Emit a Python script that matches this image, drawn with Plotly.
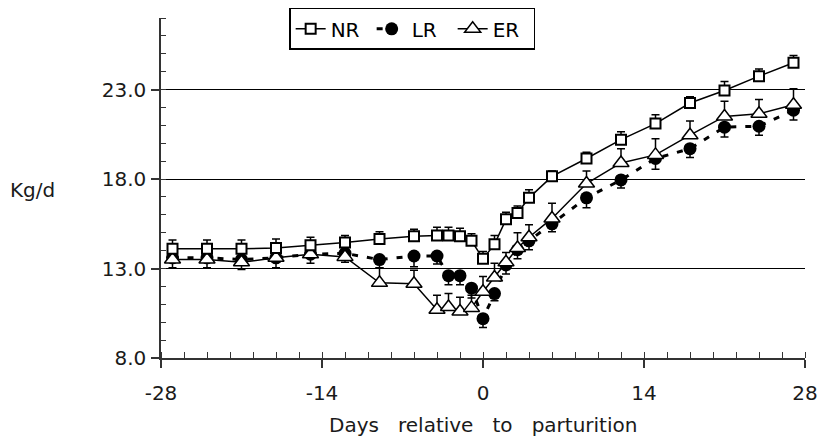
import plotly.graph_objects as go

days = [-27, -24, -21, -18, -15, -12, -9, -6, -4, -3, -2, -1, 0, 1, 2, 3, 4, 6, 9, 12, 15, 18, 21, 24, 27]

nr = [14.1, 14.1, 14.1, 14.15, 14.3, 14.45, 14.65, 14.8, 14.85, 14.85, 14.8, 14.55, 13.55, 14.35,
      15.75, 16.1, 16.95, 18.15, 19.15, 20.2, 21.1, 22.25, 22.95, 23.75, 24.5]
nr_err = [0.5, 0.5, 0.5, 0.5, 0.45, 0.4, 0.4, 0.4, 0.45, 0.45, 0.45, 0.4, 0.4, 0.5,
          0.4, 0.4, 0.45, 0.3, 0.35, 0.45, 0.5, 0.35, 0.5, 0.4, 0.4]

lr = [13.6, 13.6, 13.5, 13.6, 13.8, 13.85, 13.5, 13.7, 13.7, 12.6, 12.6, 11.9, 10.2, 11.6,
      13.2, 14.05, 14.55, 15.5, 16.95, 17.95, 19.15, 19.7, 20.9, 20.95, 21.85]
lr_err = [0.55, 0.55, 0.55, 0.55, 0.5, 0.5, 0.45, 0.6, 0.45, 0.5, 0.5, 0.55, 0.5, 0.4,
          0.5, 0.5, 0.5, 0.45, 0.55, 0.45, 0.6, 0.5, 0.55, 0.5, 0.55]

er = [13.5, 13.5, 13.35, 13.6, 13.8, 13.65, 12.2, 12.15, 10.7, 10.85, 10.6, 10.8, 11.7, 12.5,
      13.35, 14.15, 14.75, 15.8, 17.75, 18.9, 19.35, 20.45, 21.5, 21.65, 22.15]
er_err = [0.6, 0.6, 0.6, 0.6, 0.6, 0.6, 0.85, 0.75, 0.8, 0.75, 0.8, 0.7, 0.85, 0.8,
          0.55, 0.85, 0.7, 0.85, 0.7, 0.8, 0.9, 0.8, 0.85, 0.8, 0.9]

x_tickvals = [-28, -14, 0, 14, 28]
x_ticktext = ["-28", "-14", "0", "14", "28"]

zeros = [0] * len(days)
FONT = "DejaVu Sans"

fig = go.Figure()

fig.add_trace(go.Scatter(
    x=days, y=lr, name="LR", mode="lines+markers", legendrank=2,
    line=dict(color="black", width=3, dash="6px,9px"),
    marker=dict(symbol="circle", size=13, color="black"),
    error_y=dict(type="data", symmetric=False, array=zeros, arrayminus=lr_err,
                 color="black", thickness=1.5, width=4),
))
fig.add_trace(go.Scatter(
    x=days, y=er, name="ER", mode="lines+markers", legendrank=3,
    line=dict(color="black", width=1.5),
    marker=dict(symbol="triangle-up", size=14, color="white", line=dict(color="black", width=1.5)),
    error_y=dict(type="data", symmetric=False, array=er_err, arrayminus=zeros,
                 color="black", thickness=1.5, width=4),
))
fig.add_trace(go.Scatter(
    x=days, y=nr, name="NR", mode="lines+markers", legendrank=1,
    line=dict(color="black", width=1.5),
    marker=dict(symbol="square", size=10, color="white", line=dict(color="black", width=2)),
    error_y=dict(type="data", symmetric=False, array=nr_err, arrayminus=zeros,
                 color="black", thickness=1.5, width=4),
))

fig.update_layout(
    width=822, height=440,
    margin=dict(l=161, r=17, t=18, b=82, autoexpand=False),
    paper_bgcolor="white", plot_bgcolor="white",
    font=dict(family=FONT, size=20, color="#1a1a1a"),
    showlegend=True,
    legend=dict(orientation="h", x=0.39, xanchor="center", y=1.03, yanchor="top",
                bordercolor="black", borderwidth=1.5, bgcolor="white", entrywidth=36,
                font=dict(family=FONT, size=20, color="black")),
    xaxis=dict(range=[-28, 28], tickmode="array", tickvals=x_tickvals, ticktext=x_ticktext,
               ticks="outside", ticklen=8,
               tickwidth=1.5, tickcolor="#333", showline=True, linecolor="#333", linewidth=1.5,
               showgrid=False, zeroline=False, ticklabelstandoff=8,
               minor=dict(tickmode="linear", tick0=-28, dtick=2, ticks="inside", ticklen=6,
                          tickcolor="#333", tickwidth=1.2, showgrid=False)),
    yaxis=dict(range=[8, 27], tick0=8, dtick=5, tickformat=".1f", ticks="outside", ticklen=8,
               tickwidth=1.5, tickcolor="#333", showline=True, linecolor="#333", linewidth=1.5,
               showgrid=True, gridcolor="black", gridwidth=1, zeroline=False,
               ticklabelstandoff=1,
               minor=dict(tick0=8, dtick=1, ticks="inside", ticklen=5, tickcolor="#333",
                          tickwidth=1.2, showgrid=False)),
    annotations=[
        dict(text="Kg/d", xref="paper", yref="paper", x=-0.2376, y=0.494,
             xanchor="left", yanchor="middle", showarrow=False,
             font=dict(family=FONT, size=20, color="#1a1a1a")),
        dict(text="Days\u00a0\u00a0 relative\u00a0\u00a0 to\u00a0\u00a0 parturition",
             xref="paper", yref="paper", x=0.5, y=-0.198,
             xanchor="center", yanchor="middle", showarrow=False,
             font=dict(family=FONT, size=20, color="#1a1a1a")),
    ],
)

fig.write_html("out.html", config={"displayModeBar": False},
               post_script="document.body.style.margin='0px';")
